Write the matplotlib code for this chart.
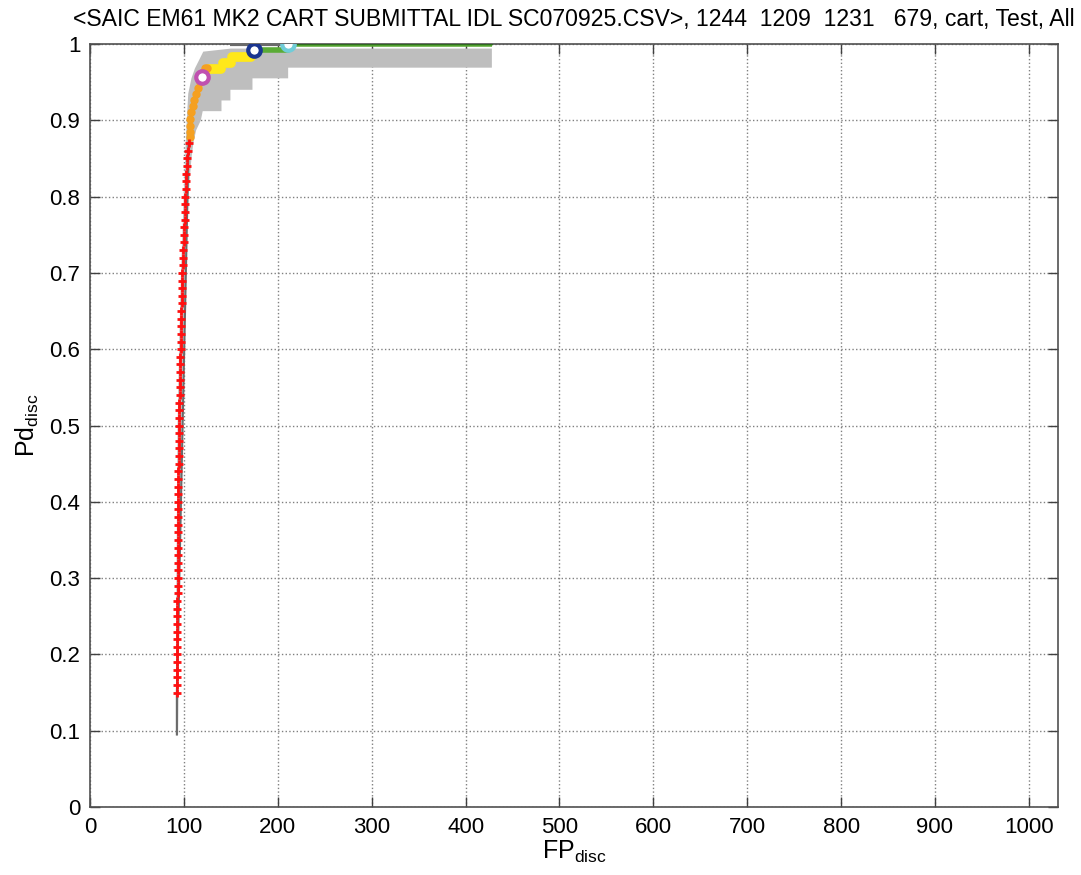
import matplotlib
matplotlib.use("Agg")
import matplotlib.pyplot as plt

# red part of the ROC (Pd, FP)
red_pd = [0.15, 0.16, 0.17, 0.18, 0.19,
          0.20, 0.21, 0.22, 0.23, 0.24, 0.25, 0.26, 0.27, 0.28, 0.29,
          0.30, 0.31, 0.32, 0.33, 0.34, 0.35, 0.36, 0.37, 0.38, 0.39,
          0.40, 0.41, 0.42, 0.43, 0.44, 0.45, 0.46, 0.47, 0.48, 0.49,
          0.50, 0.51, 0.52, 0.53, 0.54, 0.55, 0.56, 0.57, 0.58, 0.59,
          0.60, 0.61, 0.62, 0.63, 0.64, 0.65, 0.66, 0.67, 0.68, 0.69,
          0.70, 0.71, 0.72, 0.73, 0.74, 0.75, 0.76, 0.77, 0.78, 0.79,
          0.80, 0.81, 0.82, 0.83, 0.84, 0.85, 0.86, 0.87]
red_fp = [92.5, 92.5, 92.6, 92.6, 92.6,
          92.7, 92.7, 92.8, 92.8, 92.9, 93.0, 93.0, 93.1, 93.2, 93.2,
          93.3, 93.4, 93.4, 93.5, 93.6, 93.6, 93.7, 93.8, 93.9, 93.9,
          94.0, 94.0, 94.1, 94.2, 94.2, 94.3, 94.4, 94.5, 94.5, 94.6,
          94.7, 94.9, 95.0, 95.2, 95.4, 95.6, 95.8, 96.0, 96.2, 96.3,
          96.5, 96.7, 96.8, 97.0, 97.2, 97.3, 97.5, 97.7, 97.9, 98.0,
          98.2, 98.6, 99.0, 99.4, 99.8, 100.3, 100.6, 100.9, 101.1, 101.4,
          101.6, 101.9, 102.2, 102.6, 102.9, 103.4, 104.0, 105.0]

orange_pd = [0.878, 0.885, 0.893, 0.902, 0.911, 0.919, 0.927, 0.934, 0.942, 0.950, 0.957, 0.963, 0.968, 0.968]
orange_fp = [106.0, 106.5, 106.7, 106.8, 107.8, 109.3, 111.0, 112.5, 114.5, 117.0, 119.5, 120.5, 122.0, 125.0]

# yellow steps: (start FP, end FP, Pd)
yellow_x0 = [127, 142, 151]
yellow_x1 = [139, 150, 171]
yellow_pd = [0.967, 0.975, 0.9826]

green_fp = [175, 211, 211, 428]
green_pd = [0.992, 0.992, 1.0, 1.0]

# underlying grey ROC line
line_fp = [92.5, 92.5, 105.0, 106.8, 112.5, 119.5, 122.0]
line_pd = [0.095, 0.15, 0.87, 0.902, 0.934, 0.957, 0.968]
top_fp = [149, 211]
top_pd = [1.0, 1.0]

# confidence band, left edge and stepped right edge
band_left_pd = [0.095, 0.15, 0.30, 0.50, 0.60, 0.70, 0.80, 0.85, 0.90, 0.935, 0.955, 0.968, 0.981, 0.990, 0.994]
band_left_fp = [91.5, 91.5, 92.0, 93.2, 94.8, 96.8, 99.8, 101.3, 103.0, 104.6, 108.0, 111.7, 117.0, 120.6, 150.0]
band_right_pd = [0.969, 0.969, 0.955, 0.955, 0.940, 0.940, 0.926, 0.926, 0.912, 0.912,
                 0.90, 0.887, 0.87, 0.85, 0.82, 0.78, 0.70, 0.60, 0.50, 0.30, 0.15, 0.095]
band_right_fp = [428, 211, 211, 173, 173, 149.5, 149.5, 140, 140, 120,
                 118, 113, 110, 108, 106, 104, 101.5, 99.2, 97.5, 95.6, 94.3, 93.8]

# circles where the colour changes
circle_fp = [119.5, 175, 211]
circle_pd = [0.957, 0.992, 1.0]
circle_col = ["#c050b0", "#1a3590", "#70ccd8"]

plt.rcParams["font.family"] = ["Liberation Sans", "DejaVu Sans"]
plt.rcParams["mathtext.fontset"] = "custom"
plt.rcParams["mathtext.rm"] = "Liberation Sans"

fig = plt.figure(figsize=(10.81, 8.75), dpi=100)
ax = fig.add_axes([0.0833, 0.0777, 0.8954, 0.872])

poly_x = band_left_fp + [428] + band_right_fp
poly_y = band_left_pd + [0.994] + band_right_pd
ax.fill(poly_x, poly_y, color="#bebebe", lw=0, zorder=2)

ax.plot(line_fp, line_pd, color="#6a6a6a", lw=1.5, zorder=3)
ax.plot(top_fp, top_pd, color="#6a6a6a", lw=3, solid_capstyle="butt", zorder=3)

ax.plot(green_fp, green_pd, color="#5aab35", lw=4, solid_capstyle="butt", zorder=4)
ax.plot(green_fp[2:], green_pd[2:], color="#2f6a20", lw=1, zorder=4)

for x0, x1, y in zip(yellow_x0, yellow_x1, yellow_pd):
    ax.plot([x0, x1], [y, y], color="#ffe81a", lw=7, solid_capstyle="round", zorder=5)

ax.plot(orange_fp, orange_pd, ls="none", marker="o", ms=5, color="#f5a020", zorder=5)
ax.plot(red_fp, red_pd, ls="none", marker="+", ms=6, mew=2, color="#ff1010", zorder=6)

for x, y, c in zip(circle_fp, circle_pd, circle_col):
    ax.plot(x, y, marker="o", ms=9, mew=3, mec=c, mfc="white", zorder=7)

ax.set_xlim(0, 1031)
ax.set_ylim(0, 1)
ax.set_xticks(range(0, 1001, 100))
ax.set_yticks([i / 10 for i in range(11)])
ax.set_yticklabels(["0", "0.1", "0.2", "0.3", "0.4", "0.5", "0.6", "0.7", "0.8", "0.9", "1"])
ax.grid(True, ls=":", color="#808080", lw=1)
ax.set_axisbelow(True)
ax.tick_params(direction="in", top=True, right=True, length=7, width=1,
               color="#404040", labelsize=16, pad=7)
for sp in ax.spines.values():
    sp.set_color("#505050")
    sp.set_linewidth(1.2)
    sp.set_zorder(1)

ax.set_title("<SAIC EM61 MK2 CART SUBMITTAL IDL SC070925.CSV>, 1244  1209  1231   679, cart, Test, All",
             fontsize=16.6, pad=13)
ax.set_xlabel(r"$\mathrm{FP_{disc}}$", fontsize=18, labelpad=1)
ax.set_ylabel(r"$\mathrm{Pd_{disc}}$", fontsize=18, labelpad=6)

fig.savefig("out.png", dpi=100)
